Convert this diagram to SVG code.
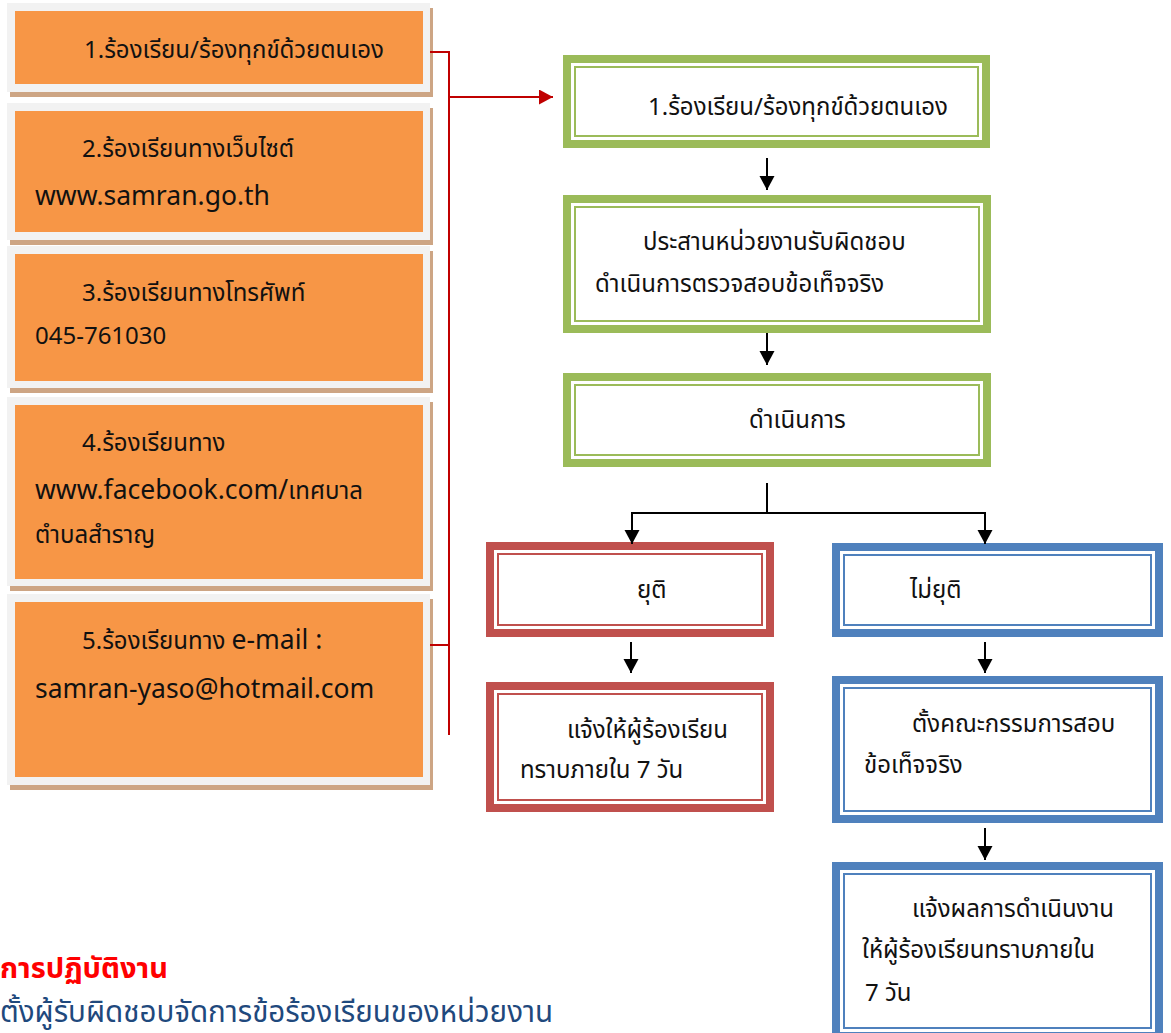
<svg xmlns="http://www.w3.org/2000/svg" width="1171" height="1033" viewBox="0 0 1171 1033">
<defs>
<marker id="ab" markerUnits="userSpaceOnUse" markerWidth="16" markerHeight="16" refX="14" refY="7.5" orient="auto"><path d="M0,0 L14,7.5 L0,15 Z" fill="#000"/></marker>
<marker id="ar" markerUnits="userSpaceOnUse" markerWidth="16" markerHeight="16" refX="14" refY="7.5" orient="auto"><path d="M0,0 L14,7.5 L0,15 Z" fill="#c00000"/></marker>
</defs>
<style>
text{font-family:"Noto Sans Thai","Leelawadee UI","Tahoma","Noto Sans",sans-serif;font-size:24px;fill:#111}
.lt{font-size:26.5px}
.sh{fill:#cda584}
.gy{fill:#f2f2f2}
.or{fill:#f79646}
.g{stroke:#9bbb59;fill:#fff}
.r{stroke:#c0504d;fill:#fff}
.b{stroke:#4f81bd;fill:#fff}
.k8{stroke-width:8}
.k2{stroke-width:2;fill:none}
.ln{stroke:#000;stroke-width:2;fill:none}
.rl{stroke:#c00000;stroke-width:2;fill:none}
</style>
<g id="src1"><rect class="sh" x="10" y="8" width="423" height="89"/><rect class="gy" x="7" y="3" width="423" height="89"/><rect class="or" x="15" y="11" width="408" height="73"/><text x="84" y="58">1.ร้องเรียน/ร้องทุกข์ด้วยตนเอง</text></g>
<g id="src2"><rect class="sh" x="10" y="108" width="423" height="137"/><rect class="gy" x="7" y="103" width="423" height="137"/><rect class="or" x="15" y="111" width="408" height="121"/><text x="82" y="157">2.ร้องเรียนทางเว็บไซต์</text><text x="35" y="205" class="lt">www.samran.go.th</text></g>
<g id="src3"><rect class="sh" x="10" y="251" width="423" height="142"/><rect class="gy" x="7" y="246" width="423" height="142"/><rect class="or" x="15" y="254" width="408" height="127"/><text x="82" y="301">3.ร้องเรียนทางโทรศัพท์</text><text x="35" y="344">045-761030</text></g>
<g id="src4"><rect class="sh" x="10" y="402" width="423" height="189"/><rect class="gy" x="7" y="397" width="423" height="189"/><rect class="or" x="15" y="405" width="408" height="174"/><text x="82" y="451">4.ร้องเรียนทาง</text><text x="35" y="499"><tspan class="lt">www.facebook.com/</tspan>เทศบาล</text><text x="35" y="543">ตำบลสำราญ</text></g>
<g id="src5"><rect class="sh" x="10" y="599" width="423" height="191"/><rect class="gy" x="7" y="594" width="423" height="191"/><rect class="or" x="15" y="602" width="408" height="175"/><text x="82" y="649">5.ร้องเรียนทาง <tspan class="lt">e-mail :</tspan></text><text x="35" y="698" class="lt">samran-yaso@hotmail.com</text></g>

<g id="step1"><rect class="g k8" x="567" y="59" width="419" height="85"/><rect class="g k2" x="575" y="67" width="403" height="69"/><text x="648" y="115">1.ร้องเรียน/ร้องทุกข์ด้วยตนเอง</text></g>
<g id="step2"><rect class="g k8" x="567" y="199" width="420" height="130"/><rect class="g k2" x="575" y="207" width="404" height="114"/><text x="643" y="250">ประสานหน่วยงานรับผิดชอบ</text><text x="595" y="292">ดำเนินการตรวจสอบข้อเท็จจริง</text></g>
<g id="step3"><rect class="g k8" x="567" y="377" width="420" height="86"/><rect class="g k2" x="575" y="385" width="404" height="70"/><text x="749" y="428">ดำเนินการ</text></g>
<g id="end1"><rect class="r k8" x="490" y="546" width="280" height="87"/><rect class="r k2" x="498" y="554" width="264" height="71"/><text x="637" y="598">ยุติ</text></g>
<g id="end2"><rect class="r k8" x="490" y="686" width="280" height="122"/><rect class="r k2" x="498" y="694" width="264" height="106"/><text x="567" y="738">แจ้งให้ผู้ร้องเรียน</text><text x="520" y="778">ทราบภายใน 7 วัน</text></g>
<g id="cont1"><rect class="b k8" x="836" y="547" width="323" height="86"/><rect class="b k2" x="844" y="555" width="307" height="70"/><text x="910" y="598">ไม่ยุติ</text></g>
<g id="cont2"><rect class="b k8" x="836" y="680" width="323" height="139"/><rect class="b k2" x="844" y="688" width="307" height="123"/><text x="912" y="732">ตั้งคณะกรรมการสอบ</text><text x="864" y="773">ข้อเท็จจริง</text></g>
<g id="cont3"><rect class="b k8" x="836" y="866" width="323" height="170"/><rect class="b k2" x="844" y="874" width="307" height="154"/><text x="912" y="917">แจ้งผลการดำเนินงาน</text><text x="862" y="958">ให้ผู้ร้องเรียนทราบภายใน</text><text x="865" y="1001">7 วัน</text></g>

<g id="connectors">
<path class="rl" d="M430,52 H449 M430,645 H449 M449,51 V735"/>
<path class="rl" d="M449,97 H553" marker-end="url(#ar)"/>
<path class="ln" d="M767,158 V190" marker-end="url(#ab)"/>
<path class="ln" d="M767,333 V365" marker-end="url(#ab)"/>
<path class="ln" d="M767,483 V513 M632,513 H985"/>
<path class="ln" d="M632,512 V544" marker-end="url(#ab)"/>
<path class="ln" d="M985,512 V544" marker-end="url(#ab)"/>
<path class="ln" d="M631,642 V673" marker-end="url(#ab)"/>
<path class="ln" d="M985,642 V673" marker-end="url(#ab)"/>
<path class="ln" d="M985,828 V860" marker-end="url(#ab)"/>
</g>
<g id="notes">
<text x="0" y="978" style="fill:#ff0000;font-weight:bold;font-size:29px">การปฏิบัติงาน</text>
<text x="0" y="1022" style="fill:#1f497d;font-size:29.5px">ตั้งผู้รับผิดชอบจัดการข้อร้องเรียนของหน่วยงาน</text>
</g>
</svg>
